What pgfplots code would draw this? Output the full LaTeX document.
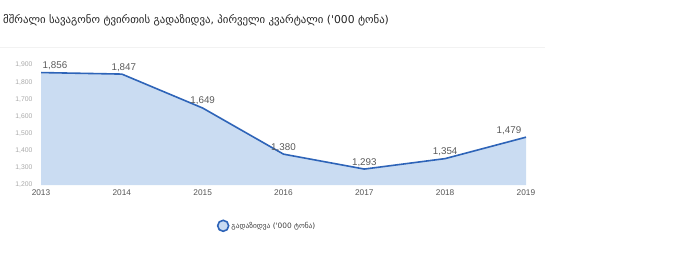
\documentclass[border=0pt]{standalone}
\usepackage{fontspec}
\setmainfont{Liberation Sans}
\newfontfamily\geo{DejaVu Sans}
\usepackage{pgfplots}
\pgfplotsset{compat=1.18}
\definecolor{lineblue}{HTML}{2E64B8}
\definecolor{fillblue}{HTML}{CADCF2}
\definecolor{ytickc}{HTML}{A8A8A8}
\definecolor{xtickc}{HTML}{555555}
\definecolor{labc}{HTML}{5A5A5A}
\pgfplotstableread{
x y s
2013 1856 14
2014 1847 2
2015 1649 0
2016 1380 0
2017 1293 0
2018 1354 0
2019 1479 -17
}\freight
\begin{document}
\begin{tikzpicture}[x=1pt,y=1pt]
\useasboundingbox (0,0) rectangle (700,265);
\node[anchor=base west, inner sep=0pt, font=\geo\fontsize{10.8}{12}\selectfont, text=black!85] at (3,241) {მშრალი სავაგონო ტვირთის გადაზიდვა, პირველი კვარტალი ('000 ტონა)};
\draw[black!5, line width=0.8pt] (0,218) -- (545,218);
\begin{axis}[
  at={(41pt,80pt)}, anchor=south west,
  scale only axis, width=485pt, height=120pt,
  xmin=2013, xmax=2019, ymin=1200, ymax=1900,
  axis line style={draw=none},
  major tick length=0pt,
  xtick={2013,2014,...,2019},
  ytick={1200,1300,...,1900},
  /pgf/number format/.cd, 1000 sep={,}, assume math mode=true,
  /pgfplots/.cd,
  x tick label style={/pgf/number format/1000 sep={}, font=\fontsize{8.3}{9}\selectfont, text=xtickc, yshift=-1pt},
  y tick label style={font=\fontsize{6.8}{7}\selectfont, text=ytickc, xshift=-5pt},
  clip mode=individual,
  legend style={at={(0.356,-0.34)}, anchor=west, draw=none, fill=none,
    font=\geo\fontsize{7.4}{8}\selectfont, text=black!75},
  legend cell align=left,
]
\addplot[fill=fillblue, draw=none, forget plot] table[x=x,y=y] {\freight} \closedcycle;
\addplot[lineblue, line width=1.6pt, mark=none,
  visualization depends on={\thisrow{s} \as \sh},
  nodes near coords,
  every node near coord/.append style={font=\fontsize{9.8}{11}\selectfont, text=labc, anchor=south, xshift=\sh pt, inner sep=2pt},
  legend image code/.code={\draw[lineblue, line width=1.6pt, fill=fillblue] (0.35em,0pt) circle (5.5pt);}
] table[x=x,y=y] {\freight};
\addlegendentry{გადაზიდვა ('000 ტონა)}
\end{axis}
\end{tikzpicture}
\end{document}
